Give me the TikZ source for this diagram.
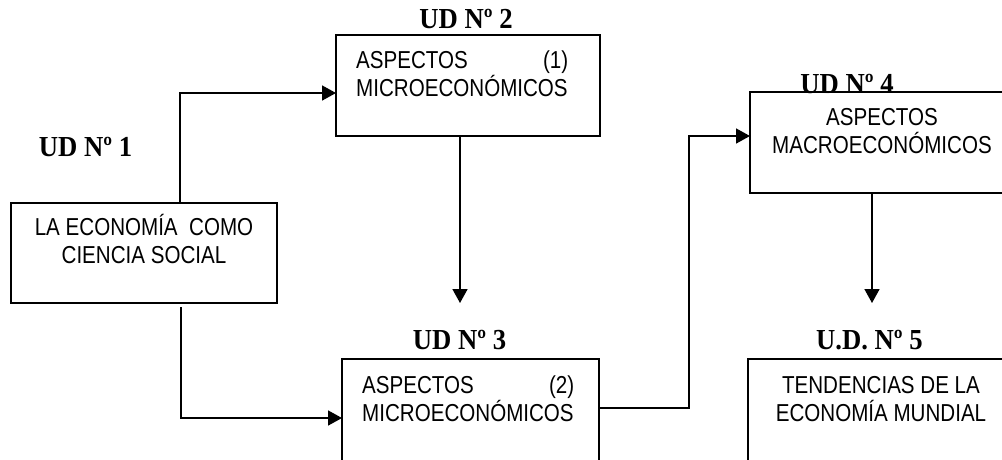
\documentclass[tikz,border=0pt]{standalone}
\usepackage{fontspec}
\usetikzlibrary{arrows.meta}
\newfontfamily\boxfont[FakeStretch=0.84]{Liberation Sans}
\newfontfamily\udfont[FakeStretch=0.92]{Liberation Serif}
\tikzset{
  box/.style={draw, line width=1.6pt, anchor=north west, inner sep=0pt, outer sep=0pt},
  btext/.style={anchor=base, inner sep=0pt, font=\boxfont\fontsize{24.5}{28}\selectfont},
  ud/.style={anchor=base, inner sep=0pt, font=\udfont\bfseries\fontsize{29}{32}\selectfont},
  arr/.style={line width=1.6pt, -{Triangle[length=14pt,width=15pt]}}
}
\begin{document}
\begin{tikzpicture}[x=1pt,y=-1pt]
\useasboundingbox (0,0) rectangle (1002,459);
\clip (0,0) rectangle (1002,459);
% boxes
\node[box, minimum width=266pt, minimum height=100pt] (b1) at (11,203) {};
\node[box, minimum width=264pt, minimum height=101pt] (b2) at (336,35) {};
\node[box, minimum width=257pt, minimum height=102pt] (b3) at (342,359) {};
\node[box, minimum width=264pt, minimum height=101pt] (b4) at (750,92) {};
\node[box, minimum width=266pt, minimum height=102pt] (b5) at (748,359) {};
% box texts
\node[btext] (t1) at (144,235) {\parbox[t]{250pt}{\centering LA ECONOMÍA\ \ COMO\\CIENCIA SOCIAL}};
\node[btext, anchor=base west] (t2) at (356,68.5) {\parbox[t]{212pt}{ASPECTOS\hfill(1)\\MICROECONÓMICOS}};
\node[btext, anchor=base west] (t3) at (362,393) {\parbox[t]{212pt}{ASPECTOS\hfill(2)\\MICROECONÓMICOS}};
\node[btext] (t4) at (882,125) {\parbox[t]{250pt}{\centering ASPECTOS\\MACROECONÓMICOS}};
\node[btext] (t5) at (881,393) {\parbox[t]{250pt}{\centering TENDENCIAS DE LA\\ECONOMÍA MUNDIAL}};
% labels
\node[ud] (u1) at (85.5,156) {UD Nº 1};
\node[ud] (u2) at (466,28.5) {UD Nº 2};
\node[ud] (u3) at (459.5,349) {UD Nº 3};
\node[ud] (u4) at (847,93) {UD Nº 4};
\node[ud] (u5) at (869.5,349) {U.D. Nº 5};
% connectors
\coordinate (c3) at (460,303);
\coordinate (c5) at (872,303);
\coordinate (k4) at (689,136);
\draw[arr] ([xshift=36pt]b1.north) |- ([yshift=-7.5pt]b2.west);
\draw[arr] ([xshift=37pt,yshift=-4pt]b1.south) |- ([yshift=-8pt]b3.west);
\draw[arr] ([xshift=-8pt]b2.south) -- (c3);
\draw[arr] ([yshift=2pt]b3.east) -| (k4) |- ([yshift=6.5pt]b4.west);
\draw[arr] ([xshift=-10pt]b4.south) -- (c5);
\end{tikzpicture}
\end{document}
